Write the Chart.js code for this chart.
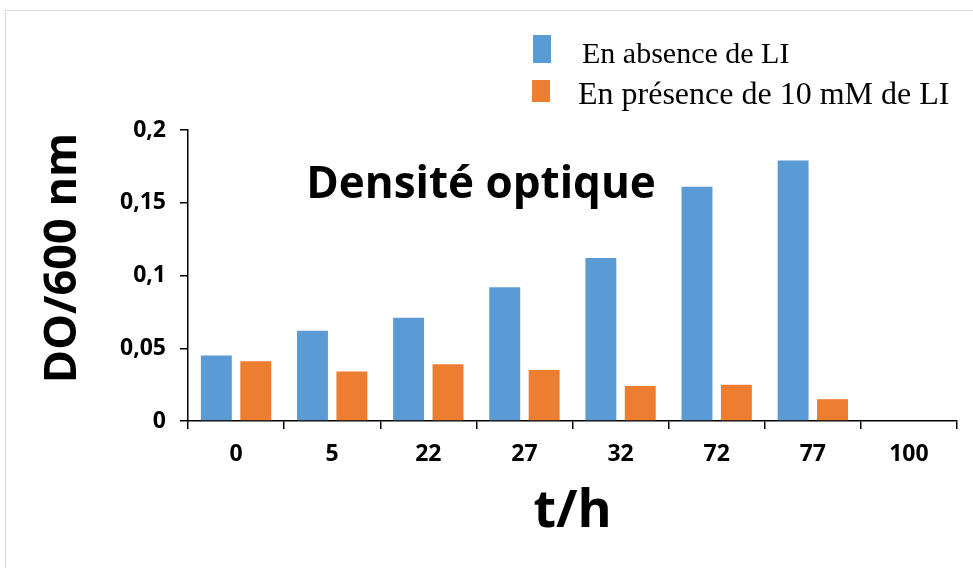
<!DOCTYPE html>
<html>
<head>
<meta charset="utf-8">
<script src="https://cdn.jsdelivr.net/npm/chart.js@4"></script>
<style>
  html, body { margin: 0; padding: 0; background: #fff; }
  #wrap { width: 973px; height: 568px; position: relative; }
</style>
</head>
<body>
<div id="wrap"><canvas id="myChart" width="973" height="568"></canvas></div>
<script>
// données
var categories = ['0', '5', '22', '27', '32', '72', '77', '100'];
var absenceLI = [0.045, 0.062, 0.071, 0.092, 0.112, 0.161, 0.179, null];
var presenceLI = [0.041, 0.034, 0.039, 0.035, 0.024, 0.025, 0.015, null];
var seriesLabels = ['En absence de LI', 'En présence de 10 mM de LI'];
var chartTitle = 'Densité optique';
var yTitle = 'DO/600 nm';
var xTitle = 't/h';

var blue = '#5B9BD5';
var orange = '#ED7D31';
var sans = '"Open Sans", sans-serif';
var serif = '"Liberation Serif", "Times New Roman", serif';

// cadre, titres et légende dessinés à la main
var decor = {
  id: 'decor',
  beforeDraw: function (chart) {
    var ctx = chart.ctx;
    ctx.save();
    ctx.strokeStyle = '#d9d9d9';
    ctx.lineWidth = 1;
    ctx.strokeRect(5.5, 10.5, 1000, 600);
    ctx.restore();
  },
  afterDraw: function (chart) {
    var ctx = chart.ctx;
    ctx.save();
    // titre dans la zone du graphique
    ctx.font = 'bold 44px ' + sans;
    ctx.fillStyle = '#000';
    ctx.textAlign = 'center';
    ctx.textBaseline = 'alphabetic';
    ctx.fillText(chartTitle, 481, 198);

    // titre de l'axe y (un peu au-dessus du milieu, comme l'original)
    ctx.save();
    ctx.translate(76, 258);
    ctx.rotate(-Math.PI / 2);
    ctx.font = 'bold 45px ' + sans;
    ctx.fillText(yTitle, 0, 0);
    ctx.restore();

    // légende
    ctx.fillStyle = blue;
    ctx.fillRect(533, 35, 18, 28);
    ctx.fillStyle = orange;
    ctx.fillRect(532, 80, 18, 22);
    ctx.fillStyle = '#000';
    ctx.textAlign = 'left';
    ctx.font = '30px ' + serif;
    ctx.fillText(seriesLabels[0], 582, 63);
    ctx.font = '32px ' + serif;
    ctx.fillText(seriesLabels[1], 578, 104);
    ctx.restore();
  }
};

var ctx = document.getElementById('myChart').getContext('2d');
var myChart = new Chart(ctx, {
  type: 'bar',
  data: {
    labels: categories,
    datasets: [{
      label: seriesLabels[0],
      data: absenceLI,
      backgroundColor: blue,
      barPercentage: 0.785,
      categoryPercentage: 0.82
    }, {
      label: seriesLabels[1],
      data: presenceLI,
      backgroundColor: orange,
      barPercentage: 0.785,
      categoryPercentage: 0.82
    }]
  },
  options: {
    responsive: false,
    animation: false,
    layout: { padding: { top: 130, left: 0, right: 16, bottom: 0 } },
    plugins: {
      legend: { display: false },
      tooltip: { enabled: false }
    },
    scales: {
      x: {
        afterFit: function (scale) { scale.height = 147; },
        grid: {
          display: true,
          drawOnChartArea: false,
          drawTicks: true,
          tickLength: 8,
          color: '#000',
          lineWidth: 1.5
        },
        border: { display: true, color: '#000', width: 1.5 },
        ticks: {
          color: '#000',
          padding: 12,
          font: { family: sans, size: 23, weight: 'bold' }
        },
        title: {
          display: true,
          text: xTitle,
          color: '#000',
          font: { family: sans, size: 52, weight: 'bold' },
          padding: { top: 0, bottom: 25 }
        }
      },
      y: {
        min: 0,
        max: 0.2,
        afterFit: function (scale) { scale.width = 188; },
        grid: {
          display: true,
          drawOnChartArea: false,
          drawTicks: true,
          tickLength: 8,
          color: '#000',
          lineWidth: 1.5
        },
        border: { display: true, color: '#000', width: 1.5 },
        ticks: {
          stepSize: 0.05,
          color: '#000',
          padding: 14,
          font: { family: sans, size: 23, weight: 'bold' },
          callback: function (v) { return String(Math.round(v * 100) / 100).replace('.', ','); }
        }
      }
    }
  },
  plugins: [decor]
});
</script>
</body>
</html>
